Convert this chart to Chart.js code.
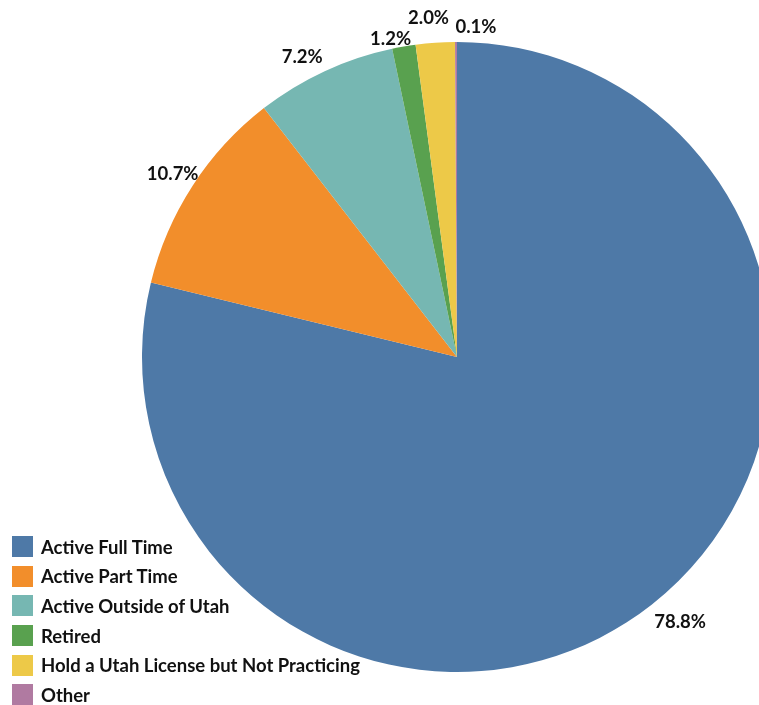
<!DOCTYPE html>
<html>
<head>
<meta charset="utf-8">
<script src="https://cdn.jsdelivr.net/npm/chart.js@4.4.0/dist/chart.umd.min.js"></script>
<style>
    html, body { margin: 0; padding: 0; background: #fff; overflow: hidden; }
    #wrap { position: absolute; left: 0; top: 0; width: 914px; height: 714px; }
    #legend { position: absolute; left: 12px; top: 532px; font-family: Lato, sans-serif; font-weight: bold; font-size: 18.5px; color: #111; }
    .row { height: 29.6px; display: flex; align-items: center; }
    .sw { width: 21px; height: 21px; margin-right: 8px; }
</style>
</head>
<body>
<div id="wrap"><canvas id="pie"></canvas></div>
<div id="legend"></div>
<script>
// Practice status shares (%)
const categories = ['Active Full Time', 'Active Part Time', 'Active Outside of Utah', 'Retired', 'Hold a Utah License but Not Practicing', 'Other'];
const shares = [78.8, 10.7, 7.2, 1.2, 2.0, 0.1];
const colors = ['#4e79a7', '#f28e2b', '#76b7b2', '#59a14f', '#edc948', '#b07aa1'];

// small nudges so labels don't collide at the top
const labelNudge = [[13, -2], [1, 2], [-12, 9], [-9, 17], [-5, 0], [20, 10]];

const outsideLabels = {
    id: 'outsideLabels',
    afterDatasetsDraw(chart) {
        const ctx = chart.ctx;
        const meta = chart.getDatasetMeta(0);
        ctx.save();
        ctx.font = 'bold 18.5px Lato, sans-serif';
        ctx.fillStyle = '#111';
        ctx.textAlign = 'center';
        ctx.textBaseline = 'middle';
        meta.data.forEach((arc, i) => {
            const mid = (arc.startAngle + arc.endAngle) / 2;
            const r = arc.outerRadius + 25;
            const x = arc.x + Math.cos(mid) * r + labelNudge[i][0];
            const y = arc.y + Math.sin(mid) * r + labelNudge[i][1];
            ctx.fillText(shares[i].toFixed(1) + '%', x, y);
        });
        ctx.restore();
    }
};

new Chart(document.getElementById('pie'), {
    type: 'pie',
    data: {
        labels: categories,
        datasets: [{
            data: shares,
            backgroundColor: colors,
            borderWidth: 0
        }]
    },
    options: {
        responsive: true,
        maintainAspectRatio: false,
        animation: false,
        layout: { padding: { top: 42, bottom: 42 } },
        plugins: {
            legend: { display: false },
            tooltip: { enabled: false }
        }
    },
    plugins: [outsideLabels]
});

// legend
const legend = document.getElementById('legend');
categories.forEach((name, i) => {
    const row = document.createElement('div');
    row.className = 'row';
    row.innerHTML = '<div class="sw" style="background:' + colors[i] + '"></div><span>' + name + '</span>';
    legend.appendChild(row);
});
</script>
</body>
</html>
